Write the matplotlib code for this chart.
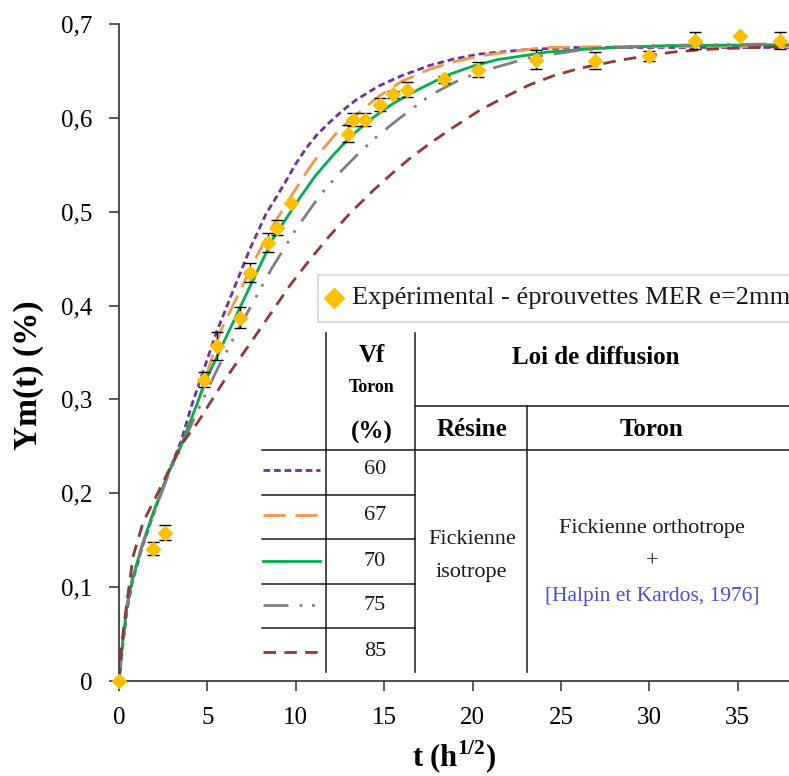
import numpy as np
import matplotlib
matplotlib.use('Agg')
import matplotlib.pyplot as plt
from matplotlib.patches import Rectangle
from matplotlib.ticker import FuncFormatter

plt.rcParams['font.family'] = ['Liberation Serif', 'DejaVu Serif']
plt.rcParams['mathtext.fontset'] = 'custom'
plt.rcParams['mathtext.rm'] = 'Liberation Serif'
plt.rcParams['mathtext.bf'] = 'Liberation Serif:bold'

# Experimental points (t in h^1/2, Ym in %)
exp_t = [0, 1.92, 2.62, 4.8, 5.53, 6.87, 7.43, 8.43, 8.94, 9.75, 12.95, 13.24,
         13.94, 14.75, 15.5, 16.3, 18.4, 20.3, 23.6, 26.95, 29.96, 32.6, 35.12, 37.39]
exp_y = [0, 0.141, 0.158, 0.321, 0.357, 0.387, 0.435, 0.467, 0.483, 0.509, 0.583, 0.598,
         0.598, 0.614, 0.625, 0.630, 0.641, 0.651, 0.662, 0.661, 0.666, 0.682, 0.687, 0.682]
exp_err = [0, 0.007, 0.008, 0.008, 0.015, 0.011, 0.010, 0.010, 0.008, 0, 0.009, 0.007,
           0.007, 0.007, 0.004, 0.008, 0.004, 0.008, 0.010, 0.009, 0.005, 0.009, 0, 0.009]

# Model curves, Vf toron = 60 / 67 / 70 / 75 / 85 %
t_60 = [0, 0.2, 0.45, 0.75, 1.3, 1.95, 2.8, 3.5, 4.1, 5.5, 7.4, 8.3, 9.3, 10.0, 10.6,
        11.2, 11.9, 12.6, 13.4, 14.7, 16.0, 17.6, 19.0, 20.4, 23.2, 26, 30, 34, 38]
y_60 = [0, 0.035, 0.075, 0.105, 0.142, 0.178, 0.222, 0.255, 0.293, 0.371, 0.46, 0.497,
        0.528, 0.551, 0.568, 0.582, 0.595, 0.607, 0.619, 0.634, 0.645, 0.656, 0.663,
        0.668, 0.673, 0.675, 0.675, 0.675, 0.675]

t_67 = [0, 0.2, 0.45, 0.75, 1.3, 1.95, 2.8, 3.5, 4.4, 5.7, 7.8, 8.7, 9.65, 10.6, 11.5,
        12.4, 13.4, 14.7, 16.0, 17.6, 19.0, 20.4, 22.3, 24.2, 28, 33, 38]
y_67 = [0, 0.04, 0.08, 0.108, 0.144, 0.18, 0.222, 0.25, 0.293, 0.371, 0.453, 0.485,
        0.514, 0.542, 0.566, 0.586, 0.603, 0.623, 0.639, 0.652, 0.660, 0.666, 0.671,
        0.675, 0.676, 0.676, 0.676]

t_70 = [0, 0.2, 0.45, 0.75, 1.3, 1.95, 2.8, 3.5, 4.95, 6.1, 7.4, 8.7, 10.2, 11.1, 12.1,
        13.1, 14.2, 15.4, 16.6, 18.5, 20.0, 21.4, 24.2, 27, 31, 38]
y_70 = [0, 0.04, 0.08, 0.108, 0.144, 0.18, 0.222, 0.25, 0.322, 0.368, 0.42, 0.471,
        0.514, 0.538, 0.56, 0.58, 0.598, 0.614, 0.627, 0.645, 0.655, 0.662, 0.670,
        0.674, 0.677, 0.678]

t_75 = [0, 0.2, 0.45, 0.75, 1.3, 1.95, 2.8, 3.5, 4.5, 5.5, 6.64, 8.62, 10.0, 11.35,
        12.5, 13.6, 14.7, 15.9, 17.6, 19.0, 20.4, 23.2, 26, 30, 38]
y_75 = [0, 0.04, 0.08, 0.108, 0.143, 0.178, 0.22, 0.248, 0.29, 0.33, 0.371, 0.439,
        0.481, 0.517, 0.542, 0.563, 0.582, 0.6, 0.624, 0.638, 0.649, 0.664, 0.672,
        0.677, 0.679]

t_85 = [0, 0.14, 0.42, 0.8, 1.36, 1.92, 2.68, 3.53, 4.47, 5.88, 7.58, 9.65, 10.8, 11.9,
        13.1, 14.4, 15.4, 16.4, 17.6, 19.0, 20.4, 21.8, 23.2, 24.6, 26.1, 28.5, 31.3,
        33.2, 36, 38]
y_85 = [0, 0.037, 0.08, 0.133, 0.169, 0.19, 0.219, 0.252, 0.276, 0.318, 0.364, 0.421,
        0.449, 0.474, 0.499, 0.523, 0.54, 0.556, 0.573, 0.591, 0.608, 0.622, 0.635,
        0.645, 0.653, 0.662, 0.670, 0.673, 0.675, 0.676]

vf_labels = ['60', '67', '70', '75', '85']
curves = [(t_60, y_60), (t_67, y_67), (t_70, y_70), (t_75, y_75), (t_85, y_85)]

colors = ['#7030A0', '#F79646', '#00B050', '#808080', '#953735']
styles = [(0, (2.4, 1.4)), (0, (8, 3.5)), '-', (0, (9, 4, 1, 3.5, 1, 4)), (0, (4.5, 3))]

W, H = 789, 776
fig = plt.figure(figsize=(W / 100, H / 100), dpi=100)
ax = fig.add_axes([119 / W, 1 - 681 / H, (W - 119) / W, (681 - 24) / H])

for (t, y), c, ls in zip(curves, colors, styles):
    ax.plot(t, y, color=c, lw=2, linestyle=ls, zorder=2,
            solid_joinstyle='round', dash_joinstyle='round')

et = np.array(exp_t)
ey = np.array(exp_y)
ee = np.array(exp_err)
m = ee > 0
ax.errorbar(et[m], ey[m], yerr=ee[m], fmt='none', ecolor='black', elinewidth=1,
            capsize=4, capthick=1, zorder=3)
ax.plot(et, ey, 'D', color='#FFC000', ms=7, zorder=4, clip_on=False)

ax.set_xlim(0, 37.9)
ax.set_ylim(0, 0.7)
ax.set_xticks(range(0, 40, 5))
ax.set_yticks(np.arange(0, 0.71, 0.1))
ax.yaxis.set_major_formatter(FuncFormatter(
    lambda v, p: '0' if abs(v) < 1e-9 else f'{v:.1f}'.replace('.', ',')))
for s in ['top', 'right']:
    ax.spines[s].set_visible(False)
for s in ['left', 'bottom']:
    ax.spines[s].set_color('#404040')
    ax.spines[s].set_linewidth(1.3)
ax.tick_params(labelsize=18, length=7, width=1.2, color='#404040', pad=12)

ax.set_ylabel('Ym(t) (%)', fontsize=24, fontweight='bold', va='center', ha='center')
ax.yaxis.set_label_coords((28 - 119) / 670, (681 - 375) / 657)
ax.set_xlabel(r't (h$^{\mathbf{1/2}}$)', fontsize=22, fontweight='bold', va='center')
ax.xaxis.set_label_coords(0.5, (681 - 757) / 657)

# overlay in pixel coordinates for the legend box and the table
ov = fig.add_axes([0, 0, 1, 1], zorder=3)
ov.set_xlim(0, W)
ov.set_ylim(H, 0)
ov.axis('off')

ov.add_patch(Rectangle((318, 275), 490, 47, facecolor='white', edgecolor='#D9D9D9', lw=1.3))
ov.plot(334, 298, 'D', color='#FFC000', ms=10)
ov.text(352, 298, 'Expérimental - éprouvettes MER e=2mm', fontsize=19,
        ha='left', va='center', color='#1a1a1a')

lc = '#1a1a1a'
lw = 1.1
ov.plot([326, 326], [333, 672], color=lc, lw=lw)
ov.plot([415, 415], [333, 672], color=lc, lw=lw)
ov.plot([527, 527], [406, 672], color=lc, lw=lw)
ov.plot([415, 789], [406, 406], color=lc, lw=lw)
ov.plot([262, 789], [450, 450], color=lc, lw=lw)
for yy in [495, 539, 584, 628]:
    ov.plot([262, 415], [yy, yy], color=lc, lw=lw)

ov.text(372, 356, 'Vf', fontsize=18, fontweight='bold', ha='center', va='center')
ov.text(372, 388, 'Toron', fontsize=13, fontweight='bold', ha='center', va='center')
ov.text(372, 432, '(%)', fontsize=18, fontweight='bold', ha='center', va='center')
ov.text(596, 357, 'Loi de diffusion', fontsize=18, fontweight='bold', ha='center', va='center')
ov.text(472, 430, 'Résine', fontsize=18, fontweight='bold', ha='center', va='center')
ov.text(652, 430, 'Toron', fontsize=18, fontweight='bold', ha='center', va='center')

row_y = [470, 515, 561, 605, 652]
for lab, yy, c, ls in zip(vf_labels, row_y, colors, styles):
    ov.plot([263, 320], [yy, yy], color=c, lw=2, linestyle=ls)
    ov.text(375, yy, lab, fontsize=16, ha='center', va='center', color='#1a1a1a')

ov.text(472, 540, 'Fickienne', fontsize=16, ha='center', va='center', color='#1a1a1a')
ov.text(471, 573, 'isotrope', fontsize=16, ha='center', va='center', color='#1a1a1a')
ov.text(652, 528, 'Fickienne orthotrope', fontsize=16, ha='center', va='center', color='#1a1a1a')
ov.text(652, 562, '+', fontsize=16, ha='center', va='center', color='#1a1a1a')
ov.text(652, 597, '[Halpin et Kardos, 1976]', fontsize=15.5, ha='center', va='center',
        color='#4a4af0')

fig.savefig('out.png', dpi=100)
